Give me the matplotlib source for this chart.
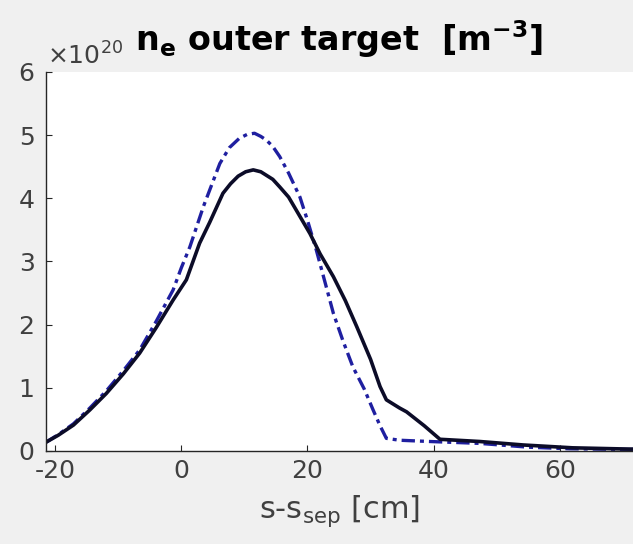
import matplotlib
matplotlib.use("Agg")
import matplotlib.pyplot as plt

plt.rcParams["axes.unicode_minus"] = False

# density at the outer target, in units of 1e20 m^-3
s_black = [-21.6, -19.5, -17.1, -14.5, -11.9, -9.2, -6.6, -4.0, -1.3, 0.8, 2.9, 4.5, 6.6,
           7.8, 9.0, 10.2, 11.4, 12.6, 14.5, 15.6, 17.0, 18.0, 20.4, 22.0, 24.1, 26.0,
           27.8, 30.0, 31.5, 32.5, 34.6, 35.7, 38.5, 41.0, 47.3, 54.2, 62.0, 71.0, 75.0]
ne_black = [0.13, 0.25, 0.41, 0.65, 0.91, 1.22, 1.55, 1.95, 2.39, 2.71, 3.29, 3.62, 4.08,
            4.23, 4.35, 4.42, 4.45, 4.42, 4.3, 4.18, 4.02, 3.85, 3.44, 3.12, 2.76, 2.38,
            1.97, 1.45, 1.02, 0.81, 0.68, 0.62, 0.40, 0.185, 0.15, 0.095, 0.05, 0.03, 0.03]

s_blue = [-21.6, -19.5, -17.1, -14.5, -11.9, -9.2, -6.6, -4.0, -1.3, 0.0, 1.35, 3.5, 6.1,
          7.6, 9.2, 10.4, 11.6, 12.6, 13.5, 14.5, 15.6, 17.0, 18.8, 20.0, 21.4, 22.7,
          24.1, 25.6, 27.2, 29.0, 30.4, 31.5, 32.5, 34.6, 39.4, 47.3, 55.0, 61.5, 75.0]
ne_blue = [0.13, 0.26, 0.43, 0.68, 0.95, 1.27, 1.6, 2.05, 2.55, 2.9, 3.23, 3.87, 4.55,
           4.8, 4.95, 5.01, 5.03, 4.98, 4.92, 4.82, 4.66, 4.4, 4.02, 3.65, 3.18, 2.7,
           2.18, 1.75, 1.33, 0.98, 0.65, 0.4, 0.2, 0.17, 0.15, 0.12, 0.06, 0.035, 0.02]

xticks = [-20, 0, 20, 40, 60]
yticks = [0, 1, 2, 3, 4, 5, 6]

fig = plt.figure(figsize=(6.33, 5.44), dpi=100, facecolor="#f0f0f0")
ax = fig.add_axes([0.0722, 0.171, 0.9278, 0.6967])
ax.set_facecolor("white")

ax.plot(s_blue, ne_blue, color="#1f1fa0", lw=2.4, dashes=(4, 1.5, 1.2, 1.5))
ax.plot(s_black, ne_black, color="#0c0c28", lw=2.6)

ax.set_xlim(-21.5, 71.6)
ax.set_ylim(0, 6)
ax.set_xticks(xticks)
ax.set_yticks(yticks)

for side in ["top", "right"]:
    ax.spines[side].set_visible(False)
for side in ["left", "bottom"]:
    ax.spines[side].set_color("#262626")
    ax.spines[side].set_linewidth(1.0)

ax.tick_params(direction="in", length=4, width=0.8, colors="#262626",
               labelcolor="#404040", labelsize=18)
ax.tick_params(axis="y", pad=8)
ax.tick_params(axis="x", pad=6)

ax.text(0.003, 1.006, r"$\times$10$^{20}$", transform=ax.transAxes, fontsize=18,
        color="#404040", ha="left", va="bottom")
ax.set_title(r"$\mathbf{n_e}$ outer target  [m$^{\mathbf{-3}}$]", fontsize=24,
             fontweight="bold", color="black", pad=15)
ax.set_xlabel(r"s-s$_{\mathrm{sep}}$ [cm]", fontsize=22, color="#404040", labelpad=7)

fig.savefig("out.png", dpi=100, facecolor=fig.get_facecolor())
